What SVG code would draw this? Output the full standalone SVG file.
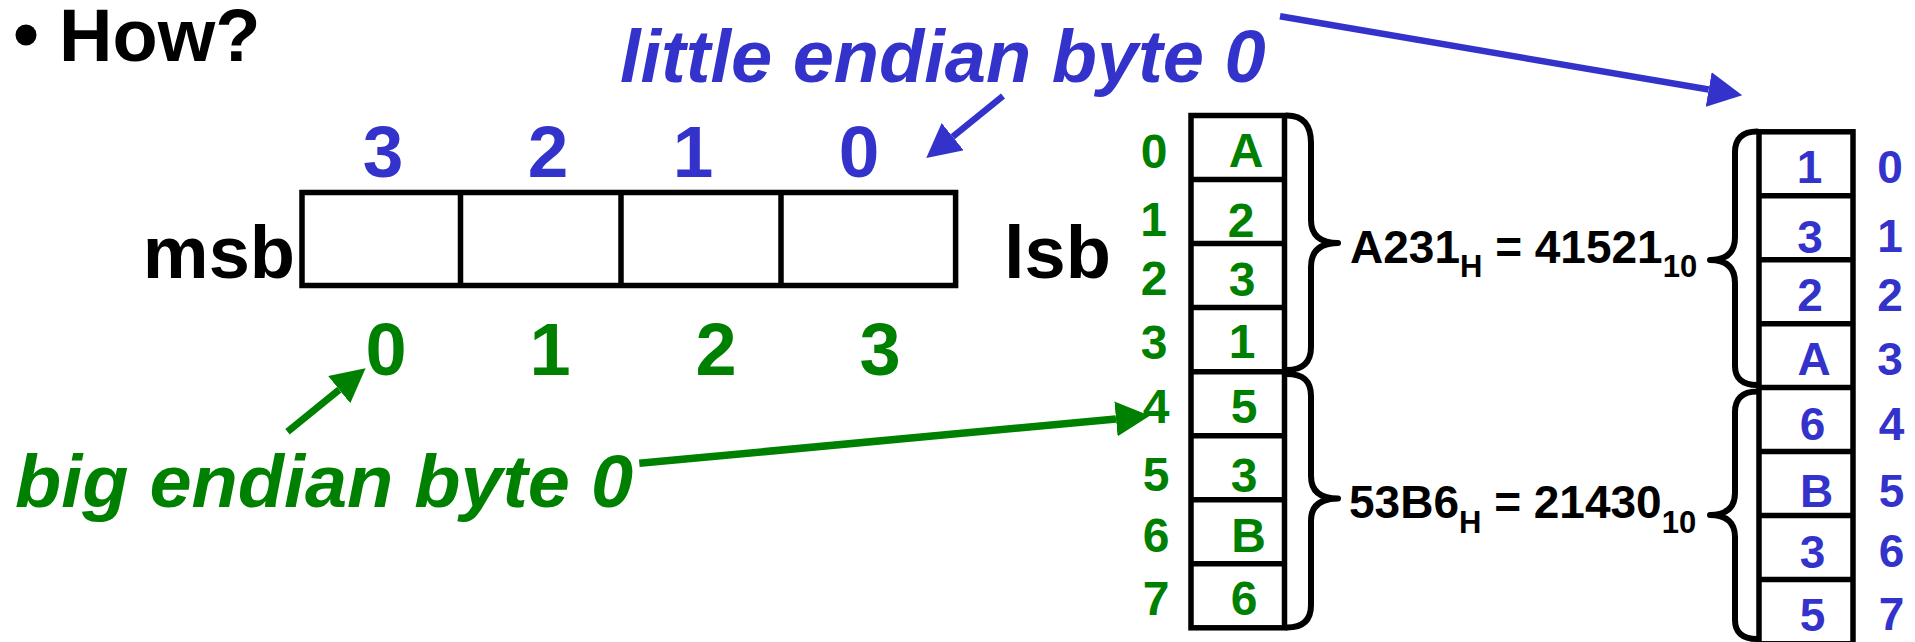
<svg xmlns="http://www.w3.org/2000/svg" width="1915" height="642" viewBox="0 0 1915 642">
  <style>
    text { font-family: "Liberation Sans", Arial, sans-serif; font-weight: bold; }
    .big { font-size: 74px; }
    .note { font-size: 74px; font-style: italic; }
    .idx { font-size: 73px; }
    .mem { font-size: 48px; text-anchor: middle; }
    .memr { font-size: 46px; text-anchor: middle; }
    .eq { font-size: 46px; fill: #000; }
    .sub { font-size: 31px; }
    .blue { fill: #3333CC; }
    .green { fill: #008000; }
    .cell { fill: #fff; stroke: #000; stroke-width: 5.5; }
    .line { stroke: #000; stroke-width: 5.5; fill: none; }
    .brace { stroke: #000; stroke-width: 6; fill: none; stroke-linecap: round; stroke-linejoin: round; }
    .mid { text-anchor: middle; }
  </style>
  <defs>
    <marker id="headBlue" viewBox="0 0 34 35" markerWidth="34" markerHeight="35" refX="0" refY="17.5" orient="auto" markerUnits="userSpaceOnUse">
      <path d="M0,0 L34,17.5 L0,35 Z" fill="#3333CC"/>
    </marker>
    <marker id="headGreen" viewBox="0 0 34 35" markerWidth="34" markerHeight="35" refX="0" refY="17.5" orient="auto" markerUnits="userSpaceOnUse">
      <path d="M0,0 L34,17.5 L0,35 Z" fill="#008000"/>
    </marker>
  </defs>

  <!-- heading -->
  <g id="heading">
    <circle cx="26" cy="35" r="10.5" fill="#000"/>
    <text class="big" x="59" y="61">How?</text>
  </g>

  <!-- four-byte word with both byte numberings -->
  <g id="word">
    <rect class="cell" x="302" y="192.5" width="653.6" height="93"/>
    <line class="line" x1="460.5" y1="192.5" x2="460.5" y2="285.5"/>
    <line class="line" x1="621" y1="192.5" x2="621" y2="285.5"/>
    <line class="line" x1="781" y1="192.5" x2="781" y2="285.5"/>
    <text class="big" x="295" y="278" text-anchor="end">msb</text>
    <text class="big" x="1004" y="278">lsb</text>
  </g>
  <g id="little-index" class="blue">
    <text class="idx mid" x="383" y="177">3</text>
    <text class="idx mid" x="548" y="177">2</text>
    <text class="idx mid" x="693" y="177">1</text>
    <text class="idx mid" x="859" y="177">0</text>
  </g>
  <g id="big-index" class="green">
    <text class="big mid" x="386" y="375">0</text>
    <text class="big mid" x="550" y="375">1</text>
    <text class="big mid" x="716" y="375">2</text>
    <text class="big mid" x="880" y="375">3</text>
  </g>

  <!-- labels -->
  <g id="little-label">
    <text class="note blue" x="620" y="82">little endian byte 0</text>
  </g>
  <g id="big-label">
    <text class="note green" x="15" y="507" textLength="618" lengthAdjust="spacingAndGlyphs">big endian byte 0</text>
  </g>

  <!-- big endian memory -->
  <g id="big-memory">
    <rect class="cell" x="1191" y="115.5" width="93.5" height="512.3"/>
    <line class="line" x1="1191" y1="179.5" x2="1284.5" y2="179.5"/>
    <line class="line" x1="1191" y1="243.6" x2="1284.5" y2="243.6"/>
    <line class="line" x1="1191" y1="307.6" x2="1284.5" y2="307.6"/>
    <line class="line" x1="1191" y1="371.7" x2="1284.5" y2="371.7" stroke-width="6.5"/>
    <line class="line" x1="1191" y1="435.7" x2="1284.5" y2="435.7"/>
    <line class="line" x1="1191" y1="499.8" x2="1284.5" y2="499.8"/>
    <line class="line" x1="1191" y1="563.8" x2="1284.5" y2="563.8"/>
    <g class="green">
      <text class="mem" x="1154" y="168">0</text>
      <text class="mem" x="1153.5" y="236">1</text>
      <text class="mem" x="1154" y="295">2</text>
      <text class="mem" x="1154" y="359">3</text>
      <text class="mem" x="1156" y="423">4</text>
      <text class="mem" x="1156" y="491">5</text>
      <text class="mem" x="1156" y="551.5">6</text>
      <text class="mem" x="1156" y="615">7</text>
      <text class="mem" x="1246" y="167">A</text>
      <text class="mem" x="1241" y="236.5">2</text>
      <text class="mem" x="1242" y="296">3</text>
      <text class="mem" x="1242" y="358">1</text>
      <text class="mem" x="1244" y="423">5</text>
      <text class="mem" x="1244" y="492">3</text>
      <text class="mem" x="1248.5" y="551.5">B</text>
      <text class="mem" x="1244" y="615">6</text>
    </g>
    <path class="brace" d="M1287,115.5 C1303,115.5 1311,125 1311,143 L1311,220 C1311,235 1320,243 1338,243 C1320,243 1311,251 1311,267 L1311,347 C1311,362 1303,370 1287,370"/>
    <path class="brace" d="M1287,374 C1303,374 1311,381 1311,396 L1311,476 C1311,491 1320,498.5 1338,498.5 C1320,498.5 1311,506 1311,521 L1311,605 C1311,620 1303,627.5 1287,627.5"/>
  </g>

  <!-- values -->
  <g id="value-a231">
    <text class="eq" x="1350" y="263.3">A231<tspan class="sub" dy="13.4">H</tspan><tspan dy="-13.4"> = 41521</tspan><tspan class="sub" dy="13.4">10</tspan></text>
  </g>
  <g id="value-53b6">
    <text class="eq" x="1349" y="518.3">53B6<tspan class="sub" dy="14.5">H</tspan><tspan dy="-14.5"> = 21430</tspan><tspan class="sub" dy="14.5">10</tspan></text>
  </g>

  <!-- little endian memory -->
  <g id="little-memory">
    <rect class="cell" x="1759" y="131.8" width="94" height="512"/>
    <line class="line" x1="1759" y1="195.8" x2="1853" y2="195.8"/>
    <line class="line" x1="1759" y1="259.8" x2="1853" y2="259.8"/>
    <line class="line" x1="1759" y1="323.8" x2="1853" y2="323.8"/>
    <line class="line" x1="1759" y1="387.6" x2="1853" y2="387.6" stroke-width="6.5"/>
    <line class="line" x1="1759" y1="451.5" x2="1853" y2="451.5"/>
    <line class="line" x1="1759" y1="515.5" x2="1853" y2="515.5"/>
    <line class="line" x1="1759" y1="579.5" x2="1853" y2="579.5"/>
    <g class="blue">
      <text class="memr" x="1809.5" y="182.5">1</text>
      <text class="memr" x="1810" y="252.5">3</text>
      <text class="memr" x="1810" y="310.5">2</text>
      <text class="memr" x="1814" y="375">A</text>
      <text class="memr" x="1812.5" y="440">6</text>
      <text class="memr" x="1816.5" y="506.5">B</text>
      <text class="memr" x="1812.5" y="568">3</text>
      <text class="memr" x="1812.5" y="630.5">5</text>
      <text class="memr" x="1890" y="183">0</text>
      <text class="memr" x="1890" y="251.5">1</text>
      <text class="memr" x="1890" y="310.5">2</text>
      <text class="memr" x="1890" y="375">3</text>
      <text class="memr" x="1891.5" y="439.5">4</text>
      <text class="memr" x="1891.5" y="506.5">5</text>
      <text class="memr" x="1891.5" y="566.5">6</text>
      <text class="memr" x="1891.5" y="630">7</text>
    </g>
    <path class="brace" d="M1757,131.5 C1742,131.5 1735,139 1735,152 L1735,237 C1735,252 1727,260 1710,260 C1727,260 1735,268 1735,283 L1735,366 C1735,378 1742,385 1757,385"/>
    <path class="brace" d="M1757,391.5 C1742,391.5 1735,399 1735,412 L1735,493 C1735,507 1727,515 1710,515 C1727,515 1735,523 1735,537 L1735,620 C1735,632 1742,639 1757,639"/>
  </g>

  <!-- pointers -->
  <g id="connectors">
    <line x1="1003" y1="96" x2="952.7" y2="136.7" stroke="#3333CC" stroke-width="6.5" marker-end="url(#headBlue)"/>
    <line x1="1280" y1="16.3" x2="1708.7" y2="89.5" stroke="#3333CC" stroke-width="6.5" marker-end="url(#headBlue)"/>
    <line x1="287.5" y1="431.7" x2="339.2" y2="389.7" stroke="#008000" stroke-width="7" marker-end="url(#headGreen)"/>
    <line x1="639.3" y1="463.3" x2="1116" y2="418.9" stroke="#008000" stroke-width="7.5" marker-end="url(#headGreen)"/>
  </g>
</svg>
